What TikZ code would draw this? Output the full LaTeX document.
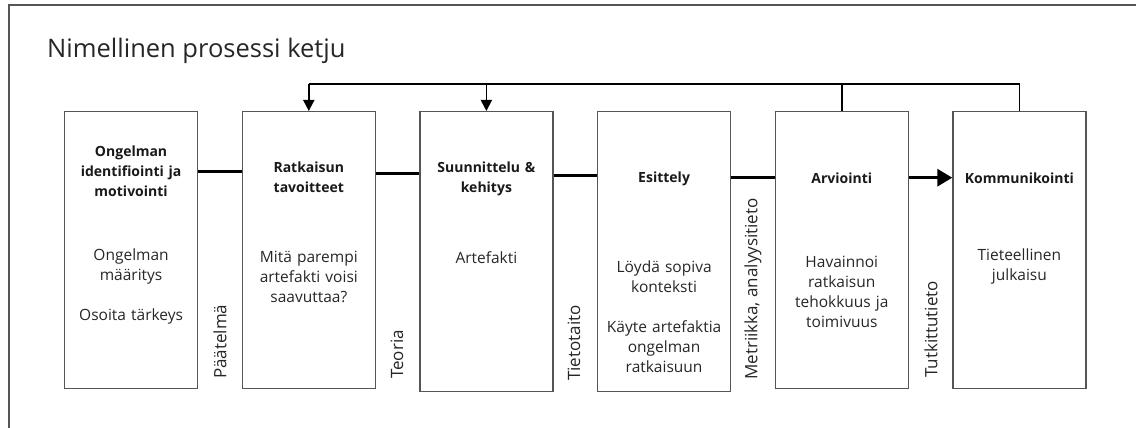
\documentclass[tikz,border=0pt]{standalone}
\usepackage{fontspec}
\setmainfont{Open Sans}
\usetikzlibrary{arrows.meta}
\definecolor{frame}{HTML}{555555}
\definecolor{txt}{HTML}{262626}
\begin{document}
\begin{tikzpicture}[x=1pt,y=-1pt,
 stepbox/.style={draw=frame, line width=1.2pt, minimum width=133pt, minimum height=277pt, anchor=north west, inner sep=0},
 tallbox/.style={stepbox, minimum height=280pt},
 head/.style={font=\fontsize{14}{20}\selectfont\bfseries, align=center, text width=130pt, inner sep=0, text=black!90},
 body/.style={font=\fontsize{15.5}{20}\selectfont, align=center, text width=130pt, inner sep=0, text=txt},
 lab/.style={font=\fontsize{17}{20}\selectfont, rotate=90, anchor=west, inner sep=0, text=txt},
 link/.style={line width=3.2pt},
 fb/.style={line width=1.8pt}]
\useasboundingbox (0,0) rectangle (1136,428);
\draw[frame, line width=1.5pt] (9,440) -- (9,5) -- (1150,5);
\node[anchor=base west, font=\fontsize{25.5}{30}\selectfont, text=txt, inner sep=0] (title) at (47,58) {Nimellinen prosessi ketju};

\node[stepbox] (b1) at (64,111) {};
\node[stepbox] (b2) at (241.7,111) {};
\node[tallbox] (b3) at (419.3,111) {};
\node[tallbox] (b4) at (597,111) {};
\node[stepbox] (b5) at (774.7,111) {};
\node[stepbox] (b6) at (952.3,111) {};

\node[head] (h1) at (b1.north |- 0,171) {Ongelman\\identifiointi ja\\motivointi};
\node[head] (h2) at (b2.north |- 0,177.7) {Ratkaisun\\tavoitteet};
\node[head] (h3) at (b3.north |- 0,179) {Suunnittelu \&\\kehitys};
\node[head] (h4) at (b4.north |- 0,179) {Esittely};
\node[head] (h5) at (b5.north |- 0,178.3) {Arviointi};
\node[head] (h6) at (b6.north |- 0,178) {Kommunikointi};

\node[body] (t1) at (b1.north |- 0,286.8) {Ongelman\\määritys\\[20pt]Osoita tärkeys};
\node[body] (t2) at (b2.north |- 0,277) {Mitä parempi\\artefakti voisi\\saavuttaa?};
\node[body] (t3) at (b3.north |- 0,258) {Artefakti};
\node[body] (t4) at (b4.north |- 0,316.7) {Löydä sopiva\\konteksti\\[20pt]Käyte artefaktia\\ongelman\\ratkaisuun};
\node[body] (t5) at (b5.north |- 0,291.7) {Havainnoi\\ratkaisun\\tehokkuus ja\\toimivuus};
\node[body] (t6) at (b6.north |- 0,266.7) {Tieteellinen\\julkaisu};

\node[lab] (l1) at (220,379) {Päätelmä};
\node[lab] (l2) at (397,379) {Teoria};
\node[lab] (l3) at (574,381) {Tietotaito};
\node[lab] (l4) at (753,380) {Metriikka, analyysitieto};
\node[lab] (l5) at (931,378) {Tutkittutieto};

\draw[link] (b1.east |- 0,171.7) -- (b2.west |- 0,171.7);
\draw[link] (b2.east |- 0,173.3) -- (b3.west |- 0,173.3);
\draw[link] (b3.east |- 0,175.7) -- (b4.west |- 0,175.7);
\draw[link] (b4.east |- 0,177.3) -- (b5.west |- 0,177.3);
\draw[link, -{Triangle[length=15pt,width=17pt]}] (b5.east |- 0,177.7) -- (b6.west |- 0,177.7);

\coordinate (top) at (b2.north |- 0,84.3);
\draw[fb] (b6.north) |- (top);
\draw[fb, -{Triangle[length=11pt,width=11pt]}] (top) -- (b2.north);
\draw[fb] (b5.north) -- (b5.north |- top);
\draw[fb, -{Triangle[length=11pt,width=11pt]}] (b3.north |- top) -- (b3.north);
\end{tikzpicture}
\end{document}
